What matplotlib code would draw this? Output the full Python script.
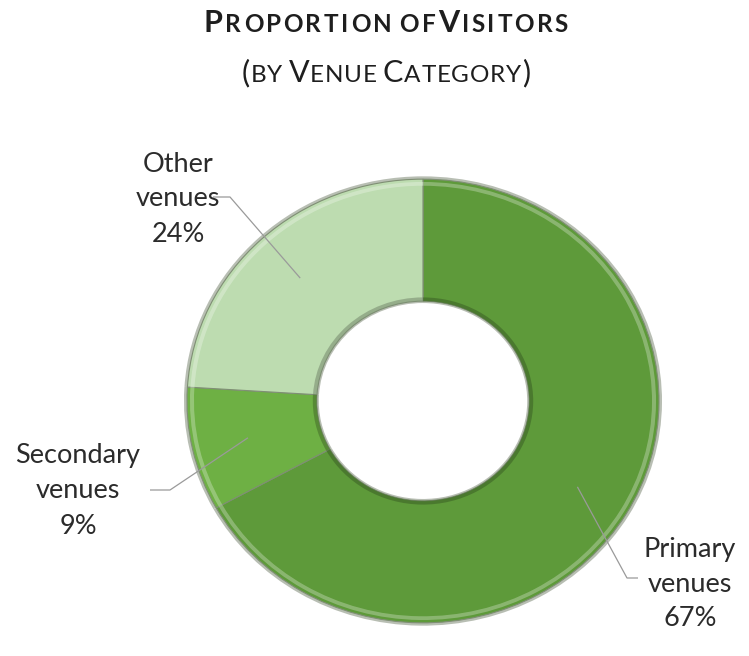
import matplotlib
matplotlib.use("Agg")
import matplotlib.pyplot as plt
from matplotlib.transforms import IdentityTransform
import numpy as np

# visitor shares by venue category, clockwise from 12 o'clock
categories = ["Primary\nvenues", "Secondary\nvenues", "Other\nvenues"]
shares = [67, 9, 24]
colors = ["#5e9a3a", "#6eb044", "#bddcb0"]
explode = [0.01, 0.025, 0.025]

FONT = "Lato"
W, H = 749, 656

fig = plt.figure(figsize=(W / 100, H / 100), dpi=100)
fig.patch.set_facecolor("white")
ax = fig.add_axes([0, 0, 1, 1])

# ring is drawn a little squashed vertically (k = y pixels per data unit)
cx, cy_pix, k = 423, 255, 0.94
R = 236
ring = 0.55

def shade(c, f):
    c = np.array(matplotlib.colors.to_rgb(c))
    if f > 0:
        return tuple(c + (1 - c) * f)
    return tuple(c * (1 + f))

common = dict(startangle=90, counterclock=False, center=(cx, 0), explode=explode)

# grey rim behind the ring
ax.pie(shares, radius=R + 3, colors=["#b8beb3"] * 3,
       wedgeprops=dict(width=R * ring + 5, linewidth=0), **common)
# base ring
wedges, _ = ax.pie(shares, radius=R, colors=colors,
                   wedgeprops=dict(width=R * ring, edgecolor="#7f8f74", linewidth=0.8), **common)
# light bevel along outer edge
ax.pie(shares, radius=R - 3, colors=[shade(c, 0.5) for c in colors],
       wedgeprops=dict(width=4, linewidth=0, alpha=0.55), **common)
# darker bevel along hole edge
ax.pie(shares, radius=R * (1 - ring) + 4, colors=[shade(c, -0.35) for c in colors],
       wedgeprops=dict(width=4, linewidth=0, alpha=0.6), **common)

ax.set_xlim(0, W)
ax.set_ylim(-cy_pix / k, (H - cy_pix) / k)
ax.set_aspect("auto")
ax.axis("off")

# labels with leader lines (positions in pixels from the bottom-left)
label_pos = [(690, 72), (78, 165), (178, 457)]
elbows = [[(638, 78), (627, 78)], [(150, 166), (170, 166)], [(213, 459), (230, 459)]]
for w, cat, pct, (tx, ty), elb in zip(wedges, categories, shares, label_pos, elbows):
    mid = np.deg2rad((w.theta1 + w.theta2) / 2)
    ox, oy = w.center
    ax_pt = ax.transData.transform((ox + 0.76 * R * np.cos(mid), oy + 0.76 * R * np.sin(mid)))
    xs = [elb[0][0], elb[1][0], ax_pt[0]]
    ys = [elb[0][1], elb[1][1], ax_pt[1]]
    ax.plot(xs, ys, color="#9a9a9a", lw=0.9, solid_capstyle="butt", transform=IdentityTransform())
    ax.text(tx, ty, f"{cat}\n{pct}%", ha="center", va="center", fontsize=19.5,
            family=FONT, color="#2b2b2b", linespacing=1.5, transform=IdentityTransform())

# small-caps title lines, set letter by letter with a little tracking
renderer = fig.canvas.get_renderer()

def small_caps_line(parts, x_center, baseline, big, small, weight, track):
    glyphs = []
    for s, is_big in parts:
        for ch in s:
            t = fig.text(0, baseline, ch, fontsize=big if is_big else small, family=FONT,
                         fontweight=weight, color="#1e1e1e", va="baseline", ha="left",
                         transform=IdentityTransform())
            glyphs.append(t)
    widths = []
    for t in glyphs:
        if t.get_text() == " ":
            widths.append(0.3 * t.get_fontsize())
        else:
            widths.append(t.get_window_extent(renderer).width + track)
    x = x_center - (sum(widths) - track) / 2
    for t, wd in zip(glyphs, widths):
        t.set_x(x)
        x += wd

small_caps_line([("P", True), ("ROPORTION ", False), ("OF", False),
                 ("V", True), ("ISITORS", False)],
                386, H - 32, 22, 17.5, "bold", 2.6)
small_caps_line([("(", True), ("BY ", False), ("V", True), ("ENUE ", False),
                 ("C", True), ("ATEGORY", False), (")", True)],
                386, H - 82, 22, 17.5, "normal", 0.8)

fig.savefig("out.png", dpi=100, facecolor="white")
